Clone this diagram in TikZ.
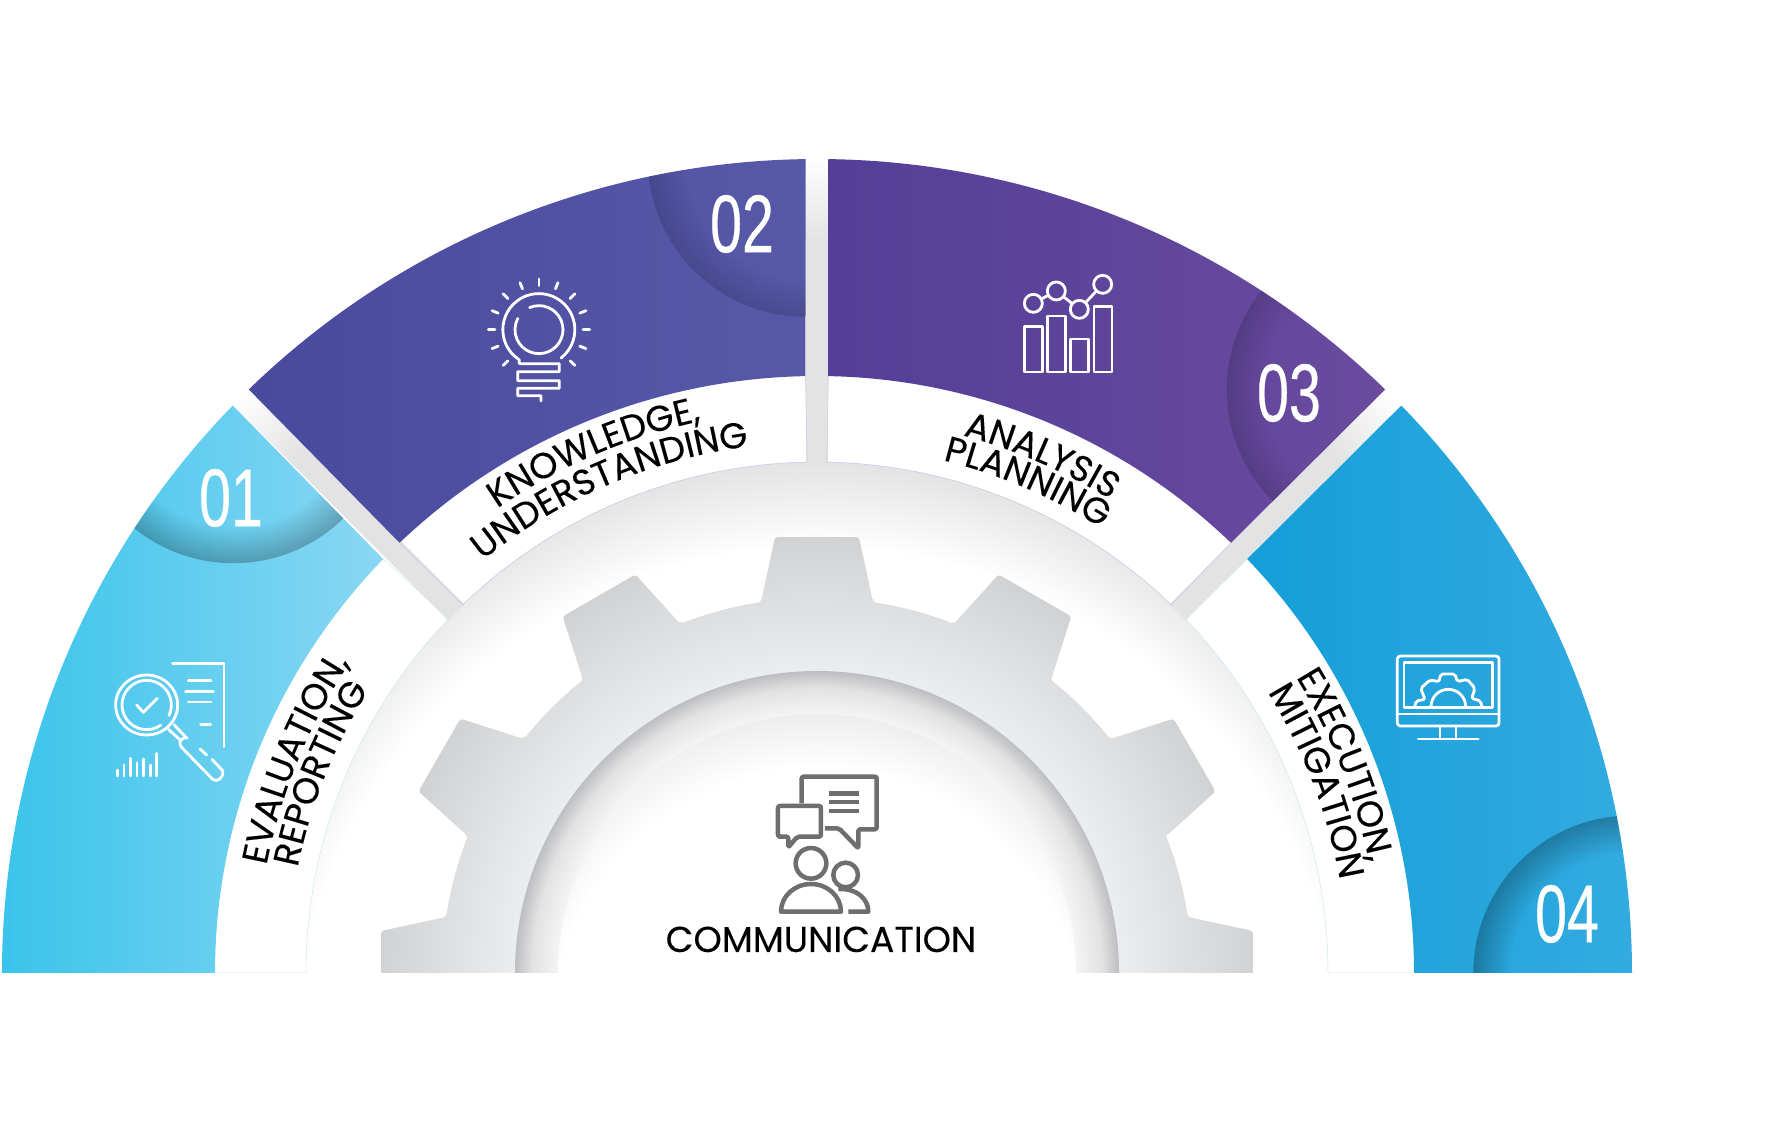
\documentclass[tikz,border=0pt]{standalone}
\usepackage{fontspec}
\usepackage{tikz}
\usetikzlibrary{fadings}
\usetikzlibrary{decorations.text}

\newfontfamily\labelfont[FakeBold=.25]{Poppins}
\newfontfamily\numberfont[FakeStretch=.7,FakeBold=.3]{Liberation Sans}
\newcommand{\bandfont}{\labelfont\fontsize{36}{36}\selectfont}

\definecolor{segonel}{HTML}{3AC4EB}
\definecolor{segoner}{HTML}{8AD7F3}
\definecolor{segtwol}{HTML}{49499E}
\definecolor{segtwor}{HTML}{5759A8}
\definecolor{segthreel}{HTML}{533F98}
\definecolor{segthreer}{HTML}{6A4B9E}
\definecolor{segfourl}{HTML}{149ED8}
\definecolor{segfourr}{HTML}{33ABE0}
\definecolor{gapgray}{HTML}{E3E3E4}
\definecolor{gearin}{HTML}{ECEDEE}
\definecolor{gearout}{HTML}{D1D2D4}
\definecolor{holedark}{HTML}{BDBEC0}
\definecolor{holemid}{HTML}{E2E2E3}
\definecolor{icongray}{HTML}{6D6E70}
\definecolor{hairone}{HTML}{CFE6F2}
\definecolor{hairtwo}{HTML}{C9C6E3}

\pgfdeclareradialshading{ringshade}{\pgfpoint{0bp}{0bp}}{color(0bp)=(white); color(21.17bp)=(white); color(24.64bp)=(gapgray); color(50bp)=(gapgray)}
\pgfdeclareradialshading{gearshade}{\pgfpoint{0bp}{0bp}}{color(0bp)=(gearin); color(17.24bp)=(gearin); color(25bp)=(gearout); color(50bp)=(gearout)}
\pgfdeclareradialshading{holeshade}{\pgfpoint{0bp}{0bp}}{color(0bp)=(white!96!black); color(21.44bp)=(white!96!black); color(23.6bp)=(holemid); color(25bp)=(holedark); color(50bp)=(holedark)}
\pgfdeclareradialshading{discshade}{\pgfpoint{0bp}{0bp}}{color(0bp)=(white); color(20.7bp)=(white); color(25bp)=(white!93!black); color(50bp)=(white!93!black)}
\pgfdeclareradialshading{rimgray}{\pgfpoint{0bp}{0bp}}{color(0bp)=(black); color(19bp)=(black); color(25bp)=(white); color(50bp)=(white)}
\pgfdeclarefading{rimfade}{\pgfuseshading{rimgray}}

\tikzset{
  number/.style={white,font=\numberfont\fontsize{82}{82}\selectfont,inner sep=0pt},
  iconline/.style={draw=white,line width=2.8pt,line cap=round,line join=round},
  dotline/.style={circle,draw=white,line width=2.8pt,minimum size=18pt,inner sep=0pt},
  commline/.style={draw=icongray,line width=4.5pt,line join=round},
  icon/.style={shift={#1},scale=1/3,yscale=-1},
}

% text set along an arc round the centre: mid angle, radius, text
\newcommand{\bandlabel}[3]{\path[decorate,decoration={text along path,text={|\bandfont|#3},text align=center}] (#1+40:#2) arc[start angle=#1+40,end angle=#1-40,radius=#2 pt];}

\begin{document}
\begin{tikzpicture}[x=1pt,y=1pt]
\useasboundingbox (-817,-159) rectangle (974,973);

\begin{scope}
\clip (-830,0) rectangle (830,830);

% shadow under the white ring
\begin{scope}
\clip (0,0) circle (511pt);
\shade[shading=ringshade] (0,-100) circle (620pt);
\end{scope}

% gaps
\foreach \ang in {45,90,135} {
  \begin{scope}[transform canvas={rotate=\ang}]
  \fill[gapgray] (510,-11.4) rectangle (734,11.4);
  \shade[left color=gapgray,right color=white] (733,-11.4) rectangle (816,11.4);
  \end{scope}
}

% gear
\shade[shading=gearshade,rounded corners=3pt] (-8.6:375)
  foreach \a in {0,30,...,330} {
    -- (\a-8.6:375) -- (\a-5.5:438) -- (\a+5.5:438) -- (\a+8.6:375)
    arc[start angle=\a+8.6,end angle=\a+21.4,radius=375pt]
  } -- cycle;
\shade[shading=holeshade] (0,0) circle (302pt);
\begin{scope}
\clip (0,0) circle (259pt);
\shade[shading=discshade] (0,-60) circle (320pt);
\end{scope}

% segments
\foreach \ob/\oa/\ia/\ib/\xr/\cl/\cr/\rim/\hair in {
  180/135.8/136.1/180/602/segonel/segoner/.26/hairone,
  134.2/90.8/91.1/133.9/602/segtwol/segtwor/.15/hairtwo,
  89.2/45.8/46.1/88.9/597/segthreel/segthreer/.15/hairtwo,
  44.2/0/0/43.9/597/segfourl/segfourr/.27/hairone} {
  \shade[left color=\cl,right color=\cr] (\ob:815pt and 814pt) arc[start angle=\ob,end angle=\oa,x radius=815pt,y radius=814pt]
    -- (\ia:\xr pt and 597pt) arc[start angle=\ia,end angle=\ib,x radius=\xr pt,y radius=597pt] -- cycle;
  \begin{scope}
  \clip (\ob:815pt and 814pt) arc[start angle=\ob,end angle=\oa,x radius=815pt,y radius=814pt]
    -- (\ia:\xr pt and 597pt) arc[start angle=\ia,end angle=\ib,x radius=\xr pt,y radius=597pt] -- cycle;
  \fill[black,path fading=rimfade,fill opacity=\rim] (\oa:814) circle (157.6pt);
  \end{scope}
  \draw[\hair,line width=.5pt] (\ia:\xr pt and 597pt) -- (\ia:511) arc[start angle=\ia,end angle=\ib,radius=511pt] -- (\ib:\xr pt and 597pt);
}
\end{scope}

% numbers
\node[number] (num1) at (-586,475) {01};
\node[number] (num2) at (-75,749) {02};
\node[number] (num3) at (472,580) {03};
\node[number] (num4) at (750,59) {04};

% band labels
\bandlabel{157.7}{561}{EVALUATION,}
\bandlabel{158.1}{530}{REPORTING}
\bandlabel{113.2}{564}{KNOWLEDGE,}
\bandlabel{113.2}{531}{UNDERSTANDING}
\bandlabel{66.5}{557}{ANALYSIS}
\bandlabel{66.8}{528}{PLANNING}
\bandlabel{21.5}{563}{EXECUTION,}
\bandlabel{21}{531}{MITIGATION}

\node[anchor=base,inner sep=0pt,font=\labelfont\fontsize{36}{36}\selectfont] (commtext) at (4,21) {COMMUNICATION};

% icon 01
\begin{scope}[icon={(-717,323)}]
\draw[iconline] (218,40) -- (372,40) -- (372,290);
\draw[iconline] (265,91) -- (333,91) (257,124) -- (340,124) (265,156) -- (333,156) (302,224) -- (332,224);
\draw[iconline] (140,165) ellipse (93 and 90);
\draw[iconline] (140,165) ++(55:74) arc[start angle=55,end angle=385,radius=74];
\draw[iconline] (110,165) -- (130,187) -- (172,145);
\draw[iconline] (205,238) -- (243,272) (222,224) -- (258,262);
\draw[iconline] (262,264) .. controls (250,258) and (232,275) .. (243,290) -- (338,388)
  .. controls (350,398) and (372,385) .. (368,362) -- (336,328);
\draw[iconline] (300,297) -- (320,315);
\foreach \bx/\by in {52/360,72/345,91/325,111/338,131/327,151/345,170/310} {
  \draw[iconline] (\bx,378) -- (\bx,\by);
}
\end{scope}

% icon 02
\begin{scope}[icon={(-347,708)}]
\foreach \a in {-45,-22,0,22,45,68,90,112,135,158,180,202,225} {
  \draw[iconline] (207,194) ++(-\a:132) -- ++(-\a:20);
}
\draw[iconline] (273,279) arc[start angle=52,end angle=-226,radius=108] -- (148,285) -- (148,296) -- (268,296)
  -- (268,320) -- (143,320) -- (143,347) -- (268,347) -- (268,370) -- (143,370) -- (143,392) -- (213,392) -- (213,408);
\draw[iconline] (207,194) ++(247:72) arc[start angle=247,end angle=568,radius=72];
\end{scope}

% icon 03
\begin{scope}[icon={(183,713)}]
\draw[iconline] (73,200) rectangle (127,336) (143,168) rectangle (197,336) (212,237) rectangle (266,336) (282,140) rectangle (336,336);
\node[dotline] (dot1) at (100,130) {};
\node[dotline] (dot2) at (169,93) {};
\node[dotline] (dot3) at (238,148) {};
\node[dotline] (dot4) at (308,73) {};
\draw[iconline] (dot1) -- (dot2);
\draw[iconline] (dot2) -- (dot3);
\draw[iconline] (dot3) -- (dot4);
\end{scope}

% icon 04
\begin{scope}[icon={(563,333)}]
\draw[iconline,rounded corners=3pt] (52,48) rectangle (357,258);
\draw[iconline] (72,68) rectangle (337,203);
\draw[iconline] (52,222) -- (357,222);
\draw[iconline] (180,258) -- (180,297) (228,258) -- (228,297) (115,297) -- (295,297);
\draw[iconline,rounded corners=2pt] (105,198) -- (108,183) -- (135,178) -- (122,145) -- (150,120) -- (177,125) -- (182,102)
  -- (225,102) -- (232,125) -- (262,118) -- (285,145) -- (275,175) -- (302,183) -- (305,198);
\draw[iconline] (153,200) arc[start angle=180,end angle=360,radius=52];
\end{scope}

% icon communication
\begin{scope}[icon={(-57,213)}]
\draw[commline,rounded corners=2pt] (125,130) -- (125,50) -- (350,50) -- (350,208) -- (295,208) -- (295,265) -- (237,205) -- (195,205);
\draw[commline] (208,101) -- (298,101) (208,126) -- (298,126) (208,153) -- (298,153);
\draw[commline,rounded corners=2pt] (54,138) -- (183,138) -- (183,230) -- (112,230) -- (85,262) -- (85,230) -- (54,230) -- cycle;
\draw[commline] (153,310) circle (46);
\draw[commline] (63,455) arc[start angle=180,end angle=360,x radius=90,y radius=83] -- cycle;
\draw[commline] (257,345) circle (37);
\draw[commline] (235,387) .. controls (295,385) and (325,420) .. (325,455) -- (265,455);
\end{scope}
\end{tikzpicture}
\end{document}
